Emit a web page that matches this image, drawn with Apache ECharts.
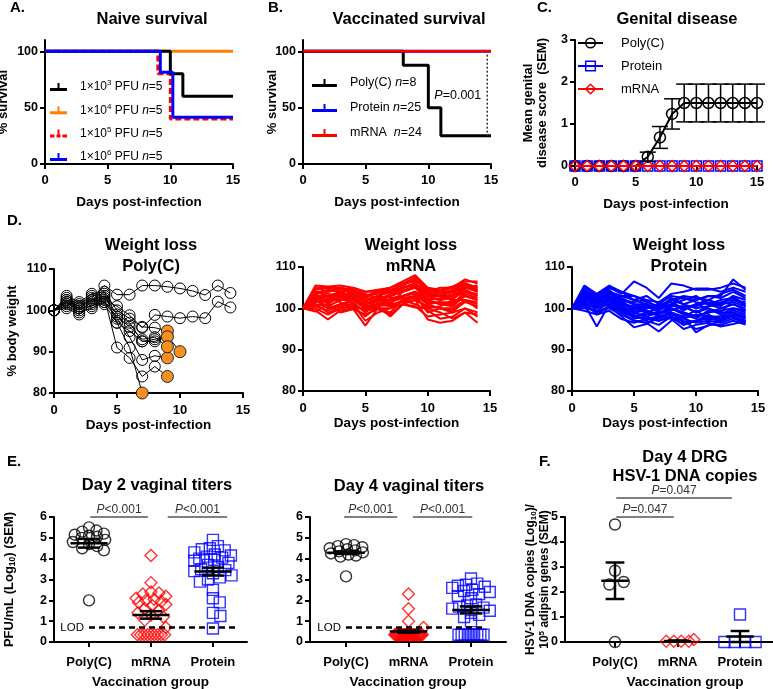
<!DOCTYPE html>
<html>
<head>
<meta charset="utf-8">
<script src="https://cdn.jsdelivr.net/npm/echarts@6.0.0/dist/echarts.min.js"></script>
<style>html,body{margin:0;padding:0;background:#fff;}#chart{width:773px;height:689px;}</style>
</head>
<body>
<div id="chart"></div>
<script>
// ================= DATA =================
// Panel A - naive survival (step curves)
const naiveDoseExp = [3, 4, 5, 6];
const naiveN = [5, 5, 5, 5];
const naive1e3Days = [0, 10, 11, 15];
const naive1e3Surv = [100, 80, 60, 60];
const naive1e4Days = [0, 15];
const naive1e4Surv = [100, 100];
const naive1e5Days = [0, 9, 10, 15];
const naive1e5Surv = [100, 80, 40, 40];
const naive1e6Days = [0, 9.2, 10.2, 15];
const naive1e6Surv = [100, 81.5, 41.5, 41.5];
const survivalTicks = [0, 50, 100];

// Panel B - vaccinated survival
const vacGroups = ['Poly(C)', 'Protein', 'mRNA'];
const vacN = [8, 25, 24];
const vacPolyDays = [0, 8, 10, 11, 15];
const vacPolySurv = [100, 87.5, 50, 25, 25];
const vacProteinDays = [0, 15];
const vacProteinSurv = [100, 100];
const vacMrnaDays = [0, 15];
const vacMrnaSurv = [100, 100];
const vacPText = 'P=0.001';
const vacPLine = [14.7, 97, 25];

// Panel C - genital disease
const diseaseDays = [0, 1, 2, 3, 4, 5, 6, 7, 8, 9, 10, 11, 12, 13, 14, 15];
const diseasePoly = [0, 0, 0, 0, 0, 0, 0.22, 0.68, 1.24, 1.5, 1.5, 1.5, 1.5, 1.5, 1.5, 1.5];
const diseasePolySem = [0, 0, 0, 0, 0, 0, 0.11, 0.26, 0.36, 0.45, 0.45, 0.45, 0.45, 0.45, 0.45, 0.45];
const diseaseProtein = [0, 0, 0, 0, 0, 0, 0, 0, 0, 0, 0, 0, 0, 0, 0, 0];
const diseaseMrna = [0, 0, 0, 0, 0, 0, 0, 0, 0, 0, 0, 0, 0, 0, 0, 0];

// Panel D - weight (% of day 0), index = day
const wPolyS1 = [100, 102.5, 101, 103, 106, 103.8, 103.8, 106, 106, 105.7, 105.3, 104.7, 103.7, 106, 104.2];
const wPolyS2 = [100, 101.5, 100.5, 101, 102.5, 101, 98.8, 95.8, 98.9, 98.5, 98.1, 98.5, 98.1, 102.1, 100.7];
const wPolyM1 = [100, 103, 101.5, 103.5, 104, 97, 91, 80];
const wPolyM2 = [100, 102, 100, 102, 103, 91, 88.5, 84, 86.4, 84];
const wPolyM3 = [100, 101, 99.5, 100.5, 102, 98, 93.5, 88, 89, 88.5];
const wPolyM4 = [100, 102.5, 101, 102.5, 103.5, 99, 97, 92.5, 93, 93.8, 90];
const wPolyM5 = [100, 103.5, 102, 104, 104.5, 100, 98, 96, 95.8, 95];
const wPolyM6 = [100, 100.5, 99, 101.5, 101.5, 97, 95, 92.5, 92.5, 93.6];
const wPolyM7 = [100, 102, 100.5, 102.5, 102, 98.5, 96, 93, 93.5, 91.2];
const weightPoly = [wPolyS1, wPolyS2, wPolyM1, wPolyM2, wPolyM3, wPolyM4, wPolyM5, wPolyM6, wPolyM7];

const weightMrna = [
  [100,104.5,105,104.8,103.5,102,103,104,106,107.5,104.5,104,105,107,106],
  [100,105.5,105.3,105.5,105,104,104.5,105,106.5,108,105,104.5,105.3,106.5,106.5],
  [100,103,101,103,102,101,102.5,103,104,105,103,102,103,105,104],
  [100,102,100,101,101.5,99,101,102,103,104,102,101,100.5,103,102],
  [100,99.5,97.3,99.5,100,95.8,100,99,102,103,99,100,99,102,100],
  [100,101,99,100,100.5,98,100.5,98,101,102,97.3,96.5,97,99,96.5],
  [100,104,104,105,104,103,103.5,104,105,106,104,103,104,106,105],
  [100,103.5,102,104,103,100,102,101,104,105,102,101,101,104,103],
  [100,102.5,103,102,102.5,101,101.5,103,105,106,103,103,102,105,104.5],
  [100,101.5,102,103.5,101,99.5,100,100,101,100.5,98,98.5,99,100,99],
  [100,104,103.5,103,104,102.5,104,105,106,106.5,105,104,104,105,105.5],
  [100,103,100,101,102,100.5,101,102,103,104,101,100,100,102,101],
  [100,105,104,104.5,105,104,104,104.5,105.5,107,104,105,105,106,105],
  [100,100.5,99.5,100.5,101,97,99,100,102,101,99.5,97.5,98,100,98],
  [100,102,102.5,101.5,100,100,102,103.5,104.5,105,103.5,103,103,104.5,103],
  [100,104,103,103,103,101.5,103,102.5,103,104,102.5,102,102.5,104,103.5],
  [100,99.2,101,99,99.8,98.5,99.8,98.5,101,100.2,100,99,97.5,99,98.5],
  [100,103.5,104.5,104,104.5,103.5,102.5,103,104,105.5,104.5,103.5,104.5,106,104],
  [100,101,100.5,102,102,100,101,101.5,102.5,103,101,101.5,101.5,103,102],
  [100,102.5,101.5,102.5,103.5,102,103,104,105,105.5,102,102.5,103.5,105.5,105],
  [100,100,98.5,100,100.5,99.5,100.5,101,101.5,102,100.5,100,99.5,101.5,100.5],
  [100,103,103,104,102,101,102,102,103,103.5,101.5,101.5,101,103.5,102.5],
  [100,105,105,105,104.5,103,104,104,105,106,103.5,103.5,104,105.5,104.5],
  [100,101.5,102,102,103,100,101,100.5,102,102.5,100,100.5,102,102,101.5]
];

const weightProtein = [
  [100,105.5,103.5,105.5,104,102,103,101,103,102.5,102,103,103,107,104.5],
  [100,104,103,105,103.5,106.5,105,102.5,106,105.5,104.5,104.5,105,106,105],
  [100,101,95.6,101,99,97,96.5,94.4,97,98,94.2,96,96,97,96.1],
  [100,103,101,104,102,99,98,97,98,96,97,98,97.5,99,98],
  [100,102,100,102,101,100,99,98.5,100,99,98,99,99.5,100,99],
  [100,104.5,102.5,103,100.5,98,99,100,101,100,101,102,101,103,102],
  [100,100.5,99,100.5,98,95.4,96.2,98,97.5,95,96,96.5,95.6,96.2,97],
  [100,103.5,102,104,103,103,101.5,100.5,102,103,102.5,102,103.5,104.5,103],
  [100,102.5,100.5,101.5,99.5,98.5,97,96,98,97,95,95.8,97,98,96.5],
  [100,101.5,101,102.5,101,99.5,100.5,99,99.5,100.5,99,100,98.5,100,99.5],
  [100,99.4,98.5,99.4,97.4,96.5,97.5,98,99,96.5,97,98.5,97,98.5,97.5],
  [100,104,102,103.5,102.5,101,101,99.5,101,102,103,101,102,102.5,101],
  [100,102,101.5,103,102,101.5,102,100,102.5,101,100,100.5,101,101.5,100.5],
  [100,103,99,102,100,97.5,98,99,99,98,99.5,97.5,98,99.5,98.5],
  [100,105,103,105,104,103,102,101.5,103.5,104,104.8,104.8,104,105,104],
  [100,101,100,101,100,99,100,100.5,100,99,98,99,100,101,100],
  [100,102,102.5,104.5,101.5,100,99.5,98.5,101,99.5,101,100,99,102,101.5],
  [100,100,99.5,100,98.5,97,96.5,97.5,98.5,97.5,96.5,97,96.5,97.5,96.5],
  [100,103.5,103,102.5,103,102,101,100,102,101,102,103,102.5,104,102.5],
  [100,101,100.5,101.5,99.5,98,98.5,99,100,98.5,97.5,99.5,99,99,98],
  [100,104,101.5,103,101,100.5,100,101,101.5,100,100.5,101.5,100.5,103,100.5],
  [100,102.5,101,102,100.5,99,99.5,98,99,97.5,98.5,98,98,98,97],
  [100,103,102,104,102,101,100,101,100.5,100.5,99,100.5,101.5,102,101],
  [100,101.5,98.5,100.5,99,98,97.5,97,98,96,97,97.5,97,98.5,97.5],
  [100,102,102,103,101.5,100,101,99.5,102,102.5,101.5,101,100,101,99.5]
];

// Panel E - vaginal titers (log10 PFU/mL)
const titerGroups = ['Poly(C)', 'mRNA', 'Protein'];
const d2Poly = [5.5, 5.35, 5.3, 5.2, 5.15, 5.1, 5.05, 5.0, 4.9, 4.8, 4.7, 4.6, 4.5, 4.4, 2.0];
const d2Mrna = [4.15, 2.85, 2.4, 2.35, 2.3, 2.2, 2.1, 2.05, 2.0, 1.95, 1.9, 1.8, 1.75, 1.6, 1.5, 1.4, 1.3, 1.2, 1.05, 0.7,
  0.35, 0.35, 0.35, 0.35, 0.35, 0.35, 0.35, 0.35, 0.35];
const d2Protein = [4.9, 4.6, 4.5, 4.45, 4.4, 4.3, 4.2, 4.15, 4.1, 4.05, 4.0, 3.95, 3.9, 3.8, 3.7, 3.6, 3.5, 3.45, 3.4, 3.3,
  3.2, 3.1, 3.0, 2.9, 2.5, 2.1, 1.9, 1.4, 1.25, 0.65];
const d2Mean = [4.74, 1.3, 3.38];
const d2Sem = [0.21, 0.18, 0.19];
const d4Poly = [4.7, 4.65, 4.6, 4.55, 4.5, 4.45, 4.4, 4.35, 4.3, 4.25, 4.2, 4.15, 4.1, 3.15];
const d4Mrna = [2.3, 1.6, 1.0, 0.7,
  0.35, 0.35, 0.35, 0.35, 0.35, 0.35, 0.35, 0.35, 0.35, 0.35, 0.35, 0.35, 0.35, 0.35,
  0.35, 0.35, 0.35, 0.35, 0.35, 0.35, 0.35, 0.35, 0.35, 0.35, 0.35, 0.35, 0.35, 0.35];
const d4Protein = [3.05, 2.8, 2.75, 2.7, 2.65, 2.6, 2.5, 2.45, 2.4, 2.3, 2.2, 2.1, 1.8, 1.75, 1.7, 1.65, 1.6, 1.5, 1.4, 1.3, 1.2, 1.0,
  0.35, 0.35, 0.35, 0.35, 0.35, 0.35, 0.35, 0.35, 0.35];
const d4Mean = [4.29, 0.5, 1.54];
const d4Sem = [0.06, 0.05, 0.17];
const lodValue = 0.7;
const d2LodSpan = [1.0, 3.4];
const d4LodSpan = [1.0, 3.2];
const d2Brackets = [[1.02, 1.95, 6], [2.27, 3.23, 6]];
const d2BracketText = ['P<0.001', 'P<0.001'];
const d4Brackets = [[0.97, 1.82, 6], [2.07, 3.02, 6]];
const d4BracketText = ['P<0.001', 'P<0.001'];

// Panel F - DRG HSV-1 DNA copies
const drgPoly = [4.7, 2.85, 2.4, 2.3, 0];
const drgMrna = [0.1, 0.03, 0.03, 0.03, 0.03];
const drgProtein = [1.1, 0, 0, 0, 0];
const drgMean = [2.45, 0.04, 0.22];
const drgSem = [0.73, 0.02, 0.22];
const drgBrackets = [[1.02, 2.87, 5.76], [1.02, 1.94, 5.0]];
const drgBracketText = ['P=0.047', 'P=0.047'];

// ================= CHART =================
const FONT = "'Liberation Sans', Arial, Helvetica, sans-serif";
const chart = echarts.init(document.getElementById('chart'), null, { renderer: 'canvas' });

function axis(o) {
  const base = {
    type: 'value',
    nameMoveOverlap: false,
    axisLine: { show: true, onZero: false, lineStyle: { color: '#000', width: 2 } },
    axisTick: { show: true, length: 5, lineStyle: { color: '#000', width: 2 } },
    axisLabel: { color: '#000', fontFamily: FONT, fontWeight: 'bold', fontSize: 12.5, margin: 7 },
    splitLine: { show: false },
    nameTextStyle: { color: '#000', fontFamily: FONT, fontWeight: 'bold', fontSize: 13 }
  };
  const r = Object.assign({}, base, o);
  ['axisLine', 'axisTick', 'axisLabel', 'nameTextStyle'].forEach(k => {
    if (o[k]) r[k] = Object.assign({}, base[k], o[k]);
  });
  return r;
}
function dayAxis(g, nameGap, margin) {
  return axis({ gridIndex: g, min: 0, max: 15, interval: 5, name: 'Days post-infection', nameLocation: 'middle',
    nameGap: nameGap, axisLabel: { margin: margin, fontSize: 13 }, nameTextStyle: { fontSize: 13.5 } });
}
function groupAxis(g, min, max) {
  return axis({ gridIndex: g, min: min, max: max, name: 'Vaccination group', nameLocation: 'middle', nameGap: 33,
    nameTextStyle: { fontSize: 13.5 },
    axisTick: { customValues: [1, 2, 3] },
    axisLabel: { customValues: [1, 2, 3], margin: 14, fontSize: 13, formatter: v => titerGroups[Math.round(v) - 1] } });
}
const italicP = s => s.replace(/^P/, '{i|P}');

const grids = [
  { left: 45, top: 40, width: 188, height: 124 },
  { left: 303, top: 40, width: 188, height: 124 },
  { left: 575, top: 40, width: 182, height: 126 },
  { left: 54, top: 269, width: 189, height: 124 },
  { left: 303, top: 267, width: 187, height: 124 },
  { left: 572, top: 267, width: 186, height: 124 },
  { left: 54, top: 517, width: 193, height: 125 },
  { left: 310, top: 517, width: 196, height: 125 },
  { left: 565, top: 517, width: 240, height: 125 }
].map(g => Object.assign({ containLabel: false, outerBoundsMode: 'none' }, g));

const xAxes = [
  dayAxis(0, 31, 10), dayAxis(1, 31, 10), dayAxis(2, 31, 10),
  dayAxis(3, 25, 11), dayAxis(4, 25, 11), dayAxis(5, 25, 11),
  groupAxis(6, 0.435, 3.55), groupAxis(7, 0.424, 3.56), groupAxis(8, 0.2, 4.04)
];
const subRich = { fontSize: 8.5, lineHeight: 9, verticalAlign: 'bottom', fontWeight: 'bold', fontFamily: FONT, color: '#000' };
const supRich = { fontSize: 8.5, lineHeight: 9, verticalAlign: 'top', fontWeight: 'bold', fontFamily: FONT, color: '#000' };
const yAxes = [
  axis({ gridIndex: 0, min: 0, max: 110, name: '% survival', nameLocation: 'middle', nameRotate: 90, nameGap: 35,
    axisTick: { customValues: survivalTicks }, axisLabel: { customValues: survivalTicks } }),
  axis({ gridIndex: 1, min: 0, max: 110, name: '% survival', nameLocation: 'middle', nameRotate: 90, nameGap: 24,
    axisTick: { customValues: survivalTicks }, axisLabel: { customValues: survivalTicks } }),
  axis({ gridIndex: 2, min: 0, max: 3, interval: 1, name: 'Mean genital\ndisease score  (SEM)', nameLocation: 'middle',
    nameRotate: 90, nameGap: 26, nameTextStyle: { lineHeight: 14 } }),
  axis({ gridIndex: 3, min: 80, max: 110, interval: 10, name: '% body weight', nameLocation: 'middle', nameRotate: 90, nameGap: 35 }),
  axis({ gridIndex: 4, min: 80, max: 110, interval: 10 }),
  axis({ gridIndex: 5, min: 80, max: 110, interval: 10 }),
  axis({ gridIndex: 6, min: 0, max: 6, interval: 1, name: 'PFU/mL (Log{sub|10}) (SEM)', nameLocation: 'middle', nameRotate: 90,
    nameGap: 37, nameTextStyle: { lineHeight: 16, rich: { sub: subRich } } }),
  axis({ gridIndex: 7, min: 0, max: 6, interval: 1 }),
  axis({ gridIndex: 8, min: 0, max: 5, interval: 1, name: 'HSV-1 DNA copies (Log{sub|10})/\n10{sup|5} adipsin genes (SEM)',
    nameLocation: 'middle', nameRotate: 90, nameGap: 14,
    nameTextStyle: { fontSize: 12, lineHeight: 13.5, rich: { sub: Object.assign({}, subRich, { fontSize: 8 }), sup: Object.assign({}, supRich, { fontSize: 8 }) } } })
];

const series = [];
function stepLine(name, gi, days, surv, color, width, dash) {
  return { type: 'line', name: name, xAxisIndex: gi, yAxisIndex: gi, step: 'end', symbol: 'none', silent: true,
    data: days.map((d, i) => [d, surv[i]]),
    lineStyle: { color: color, width: width, type: dash || 'solid' }, itemStyle: { color: color } };
}
const naiveColors = ['#000000', '#FF7F00', '#FF0000', '#0000FF'];
// Panel A (drawing order chosen for overlap)
series.push(stepLine('n4', 0, naive1e4Days, naive1e4Surv, naiveColors[1], 3));
series.push(stepLine('n5', 0, naive1e5Days, naive1e5Surv, naiveColors[2], 3, [6, 3]));
series.push(stepLine('n3', 0, naive1e3Days, naive1e3Surv, naiveColors[0], 3));
series.push(stepLine('n6', 0, naive1e6Days, naive1e6Surv, naiveColors[3], 3));
// Panel B
const vacColors = ['#000000', '#0000FF', '#FF0000'];
series.push(stepLine('vProt', 1, vacProteinDays, vacProteinSurv, vacColors[1], 3));
series.push(stepLine('vPoly', 1, vacPolyDays, vacPolySurv, vacColors[0], 3));
series.push(stepLine('vMrna', 1, vacMrnaDays, vacMrnaSurv, vacColors[2], 2.5));
series.push({ type: 'custom', xAxisIndex: 1, yAxisIndex: 1, clip: false, silent: true, z: 5, data: [vacPLine],
  renderItem: (p, api) => {
    const a = api.coord([api.value(0), api.value(1)]), b = api.coord([api.value(0), api.value(2)]);
    return { type: 'group', children: [
      { type: 'line', shape: { x1: a[0], y1: a[1], x2: b[0], y2: b[1] }, style: { stroke: '#333', lineWidth: 1.5, lineDash: [2, 2] } },
      { type: 'text', style: { text: italicP(vacPText), x: a[0] - 6, y: (a[1] + b[1]) / 2, align: 'right', verticalAlign: 'middle',
        fontFamily: FONT, fontSize: 12.5, fill: '#000', rich: { i: { fontStyle: 'italic', fontFamily: FONT, fontSize: 12.5, fill: '#000' } } } }
    ] };
  } });

// Panel C
series.push({ type: 'line', name: 'cPoly', xAxisIndex: 2, yAxisIndex: 2, silent: true,
  data: diseaseDays.map((d, i) => [d, diseasePoly[i]]), symbol: 'circle', symbolSize: 11,
  lineStyle: { color: '#000', width: 2 }, itemStyle: { color: 'rgba(0,0,0,0)', borderColor: '#000', borderWidth: 1.5 } });
series.push({ type: 'custom', xAxisIndex: 2, yAxisIndex: 2, clip: false, silent: true, z: 4,
  data: diseaseDays.map((d, i) => [d, diseasePoly[i], diseasePolySem[i]]),
  renderItem: (p, api) => {
    const x = api.value(0), m = api.value(1), s = api.value(2);
    if (!(s > 0)) return { type: 'group', children: [] };
    const t = api.coord([x, m + s]), b = api.coord([x, m - s]);
    const st = { stroke: '#000', lineWidth: 1.5 };
    return { type: 'group', children: [
      { type: 'line', shape: { x1: t[0], y1: t[1], x2: b[0], y2: b[1] }, style: st },
      { type: 'line', shape: { x1: t[0] - 8, y1: t[1], x2: t[0] + 8, y2: t[1] }, style: st },
      { type: 'line', shape: { x1: b[0] - 8, y1: b[1], x2: b[0] + 8, y2: b[1] }, style: st }
    ] };
  } });
series.push({ type: 'line', name: 'cProt', xAxisIndex: 2, yAxisIndex: 2, silent: true,
  data: diseaseDays.map((d, i) => [d, diseaseProtein[i]]), symbol: 'rect', symbolSize: 10,
  lineStyle: { color: '#0000FF', width: 2 }, itemStyle: { color: 'rgba(0,0,0,0)', borderColor: '#0000FF', borderWidth: 1.5 } });
series.push({ type: 'line', name: 'cMrna', xAxisIndex: 2, yAxisIndex: 2, silent: true,
  data: diseaseDays.map((d, i) => [d, diseaseMrna[i]]), symbol: 'diamond', symbolSize: 11,
  lineStyle: { color: '#FF0000', width: 2 }, itemStyle: { color: 'rgba(0,0,0,0)', borderColor: '#FF0000', borderWidth: 1.5 } });

// Panel D
weightPoly.forEach((arr, k) => {
  const died = arr.length < 15;
  series.push({ type: 'line', name: 'wPoly' + k, xAxisIndex: 3, yAxisIndex: 3, silent: true,
    symbol: 'circle', symbolSize: 11, lineStyle: { color: '#000', width: 1 },
    itemStyle: { color: 'rgba(0,0,0,0)', borderColor: '#000', borderWidth: 1 },
    data: arr.map((v, d) => (died && d === arr.length - 1)
      ? { value: [d, v], symbolSize: 12, itemStyle: { color: '#F7901E', borderColor: '#222', borderWidth: 1 } }
      : [d, v]) });
});
weightMrna.forEach((arr, k) => series.push({ type: 'line', name: 'wMrna' + k, xAxisIndex: 4, yAxisIndex: 4, silent: true,
  symbol: 'none', lineStyle: { color: '#FF0000', width: 2 }, data: arr.map((v, d) => [d, v]) }));
weightProtein.forEach((arr, k) => series.push({ type: 'line', name: 'wProt' + k, xAxisIndex: 5, yAxisIndex: 5, silent: true,
  symbol: 'none', lineStyle: { color: '#0000FF', width: 2 }, data: arr.map((v, d) => [d, v]) }));

// Dot plots (E, F): scatter layout – repeated values spread in a row, others placed as a swarm
function swarm(values, center, pxX, pxY, dist, halfW, tieW) {
  const counts = {};
  values.forEach(v => { counts[v] = (counts[v] || 0) + 1; });
  const placed = [], xs = new Array(values.length);
  const tieSeen = {};
  values.forEach((v, i) => {
    if (counts[v] >= 4) {
      const k = counts[v], j = tieSeen[v] = (tieSeen[v] === undefined ? 0 : tieSeen[v] + 1);
      const o = -tieW + (2 * tieW) * j / (k - 1);
      placed.push([o, v]);
      xs[i] = center + o;
    }
  });
  const order = values.map((v, i) => i).filter(i => counts[values[i]] < 4).sort((a, b) => values[b] - values[a]);
  const steps = [0];
  for (let s = 1; s <= Math.round(halfW * 100); s++) { steps.push(s / 100); steps.push(-s / 100); }
  order.forEach(i => {
    const v = values[i];
    let best = 0, bestPen = Infinity;
    for (const o of steps) {
      let pen = 0;
      for (const q of placed) {
        const dd = Math.hypot((o - q[0]) * pxX, (v - q[1]) * pxY);
        if (dd < dist) pen += dist - dd;
      }
      if (pen < bestPen - 1e-6) { bestPen = pen; best = o; }
      if (pen === 0) break;
    }
    placed.push([best, v]);
    xs[i] = center + best;
  });
  return xs;
}
const dotStyles = [
  { symbol: 'circle', color: '#000000', size: 11 },
  { symbol: 'diamond', color: '#FF0000', size: 12 },
  { symbol: 'rect', color: '#0000FF', size: 11 }
];
function addDots(gi, groupsData, pxY, params) {
  groupsData.forEach((vals, g) => {
    const pr = params[g];
    const xs = swarm(vals, g + 1, 62.5, pxY, pr[0], pr[1], pr[2]);
    const st = dotStyles[g];
    series.push({ type: 'scatter', name: 'dots' + gi + '_' + g, xAxisIndex: gi, yAxisIndex: gi, silent: true,
      symbol: st.symbol, symbolSize: st.size,
      itemStyle: { color: 'rgba(0,0,0,0)', borderColor: st.color, borderWidth: 1.4 },
      data: vals.map((v, i) => [xs[i], v]) });
  });
}
function addMeanSem(gi, means, sems, halfMean, halfCap) {
  series.push({ type: 'custom', xAxisIndex: gi, yAxisIndex: gi, clip: false, silent: true, z: 6,
    data: means.map((m, i) => [i + 1, m, sems[i]]),
    renderItem: (p, api) => {
      const x = api.value(0), m = api.value(1), s = api.value(2);
      const st = { stroke: '#000', lineWidth: 2.5 };
      const seg = (a, b) => ({ type: 'line', shape: { x1: a[0], y1: a[1], x2: b[0], y2: b[1] }, style: st });
      return { type: 'group', children: [
        seg(api.coord([x - halfMean, m]), api.coord([x + halfMean, m])),
        seg(api.coord([x, m + s]), api.coord([x, m - s])),
        seg(api.coord([x - halfCap, m + s]), api.coord([x + halfCap, m + s])),
        seg(api.coord([x - halfCap, m - s]), api.coord([x + halfCap, m - s]))
      ] };
    } });
}
function addBrackets(gi, brackets, texts) {
  series.push({ type: 'custom', xAxisIndex: gi, yAxisIndex: gi, clip: false, silent: true, z: 6, data: brackets,
    renderItem: (p, api) => {
      const a = api.coord([api.value(0), api.value(2)]), b = api.coord([api.value(1), api.value(2)]);
      return { type: 'group', children: [
        { type: 'line', shape: { x1: a[0], y1: a[1], x2: b[0], y2: b[1] }, style: { stroke: '#555', lineWidth: 1.3 } },
        { type: 'text', style: { text: italicP(texts[p.dataIndex]), x: (a[0] + b[0]) / 2, y: a[1] - 1, align: 'center', verticalAlign: 'bottom',
          fontFamily: FONT, fontSize: 12, fill: '#333', rich: { i: { fontStyle: 'italic', fontFamily: FONT, fontSize: 12, fill: '#333' } } } }
      ] };
    } });
}
function addLod(gi, span) {
  series.push({ type: 'custom', xAxisIndex: gi, yAxisIndex: gi, clip: false, silent: true, z: 7,
    data: [[span[0], span[1], lodValue]],
    renderItem: (p, api) => {
      const a = api.coord([api.value(0), api.value(2)]), b = api.coord([api.value(1), api.value(2)]);
      return { type: 'group', children: [
        { type: 'line', shape: { x1: a[0], y1: a[1], x2: b[0], y2: b[1] }, style: { stroke: '#000', lineWidth: 2.5, lineDash: [6, 4] } },
        { type: 'text', style: { text: 'LOD', x: a[0] - 5, y: a[1], align: 'right', verticalAlign: 'middle', fontFamily: FONT, fontSize: 11.5, fill: '#000' } }
      ] };
    } });
}
addDots(6, [d2Poly, d2Mrna, d2Protein], 125 / 6, [[8, 0.26, 0.2], [8, 0.24, 0.22], [8, 0.3, 0.2]]);
addLod(6, d2LodSpan);
addMeanSem(6, d2Mean, d2Sem, 0.3, 0.18);
addBrackets(6, d2Brackets, d2BracketText);
addDots(7, [d4Poly, d4Mrna, d4Protein], 125 / 6, [[8, 0.27, 0.2], [8, 0.24, 0.22], [8, 0.3, 0.2]]);
addLod(7, d4LodSpan);
addMeanSem(7, d4Mean, d4Sem, 0.3, 0.18);
addBrackets(7, d4Brackets, d4BracketText);
addDots(8, [drgPoly, drgMrna, drgProtein], 25, [[14, 0.3, 0.2], [7, 0.26, 0.18], [12, 0.3, 0.25]]);
addMeanSem(8, drgMean, drgSem, 0.22, 0.15);
addBrackets(8, drgBrackets, drgBracketText);

// Legends
const iconA = 'path://M0,5L17,5L17,8L0,8Z M7.5,0L9.5,0L9.5,5L7.5,5Z';
const iconADash = 'path://M0,5L4.5,5L4.5,8L0,8Z M6.5,5L10.5,5L10.5,8L6.5,8Z M12.5,5L17,5L17,8L12.5,8Z M7.5,0L9.5,0L9.5,5L7.5,5Z';
const iconB = 'path://M0,5L25,5L25,8L0,8Z M11.5,0L13.5,0L13.5,5L11.5,5Z';
const legendText = {};
['n3', 'n4', 'n5', 'n6'].forEach((n, i) => { legendText[n] = '1×10{sup|' + naiveDoseExp[i] + '} PFU {i|n}=' + naiveN[i]; });
['vPoly', 'vProt', 'vMrna'].forEach((n, i) => { legendText[n] = vacGroups[i] + (i === 2 ? '  ' : ' ') + '{i|n}=' + vacN[i]; });
legendText.cPoly = 'Poly(C)'; legendText.cProt = 'Protein'; legendText.cMrna = 'mRNA';
const legRich = (fs) => ({
  sup: { fontSize: 8, lineHeight: 9, verticalAlign: 'top', fontFamily: FONT, color: '#000' },
  i: { fontStyle: 'italic', fontSize: fs, fontFamily: FONT, color: '#000' }
});
const legends = [
  { data: ['n3', 'n4', 'n5', 'n6'].map((n, i) => ({ name: n, icon: i === 2 ? iconADash : iconA, itemStyle: { color: naiveColors[i], borderWidth: 0 } })),
    orient: 'vertical', left: 50, top: 79, itemWidth: 17, itemHeight: 8, itemGap: 7.3, padding: 0,
    textStyle: { fontFamily: FONT, fontSize: 12, color: '#000', lineHeight: 16, padding: [0, 0, 0, 8], rich: legRich(12) } },
  { data: ['vPoly', 'vProt', 'vMrna'].map((n, i) => ({ name: n, icon: iconB, itemStyle: { color: vacColors[i], borderWidth: 0 } })),
    orient: 'vertical', left: 312, top: 75, itemWidth: 25, itemHeight: 8, itemGap: 9, padding: 0,
    textStyle: { fontFamily: FONT, fontSize: 12.5, color: '#000', lineHeight: 16, padding: [0, 0, 0, 8], rich: legRich(12.5) } },
  { data: [['cPoly', '#000000'], ['cProt', '#0000FF'], ['cMrna', '#FF0000']].map(a => ({ name: a[0],
      itemStyle: { color: 'rgba(0,0,0,0)', borderColor: a[1], borderWidth: 1.5 }, lineStyle: { color: a[1], width: 2 } })),
    orient: 'vertical', left: 577, top: 35, itemWidth: 25, itemHeight: 12, itemGap: 7, padding: 0,
    textStyle: { fontFamily: FONT, fontSize: 13, color: '#000', lineHeight: 16, padding: [0, 0, 0, 13] } }
].map(l => Object.assign({ selectedMode: false, formatter: n => legendText[n] }, l));

// Titles & panel letters
const labels = [
  ['A.', 10, 8, 'left'], ['B.', 268, 8, 'left'], ['C.', 537, 8, 'left'],
  ['D.', 7, 221, 'left'], ['E.', 7, 462, 'left'], ['F.', 539, 462, 'left']
];
const titles = [
  ['Naive survival', 152, 19, 0], ['Vaccinated survival', 409, 19, 0], ['Genital disease', 677, 19, 0],
  ['Weight loss\nPoly(C)', 151, 256, 20.5], ['Weight loss\nmRNA', 411, 256, 20.5], ['Weight loss\nProtein', 679, 256, 20.5],
  ['Day 2 vaginal titers', 157, 485, 0], ['Day 4 vaginal titers', 409, 486, 0], ['Day 4 DRG\nHSV-1 DNA copies', 685, 467, 19.5]
];
const graphic = labels.map(l => ({ type: 'text', x: l[1], y: l[2], silent: true,
  style: { text: l[0], fontFamily: FONT, fontWeight: 'bold', fontSize: 15, fill: '#000', align: l[3], verticalAlign: 'middle' } }))
  .concat(titles.map(t => ({ type: 'text', x: t[1], y: t[2], silent: true,
    style: { text: t[0], fontFamily: FONT, fontWeight: 'bold', fontSize: 16.5, fill: '#000', align: 'center', verticalAlign: 'middle',
      lineHeight: t[3] || 18 } })));

chart.setOption({
  animation: false,
  backgroundColor: '#fff',
  textStyle: { fontFamily: FONT },
  grid: grids,
  xAxis: xAxes,
  yAxis: yAxes,
  legend: legends,
  series: series,
  graphic: graphic
});
</script>
</body>
</html>
